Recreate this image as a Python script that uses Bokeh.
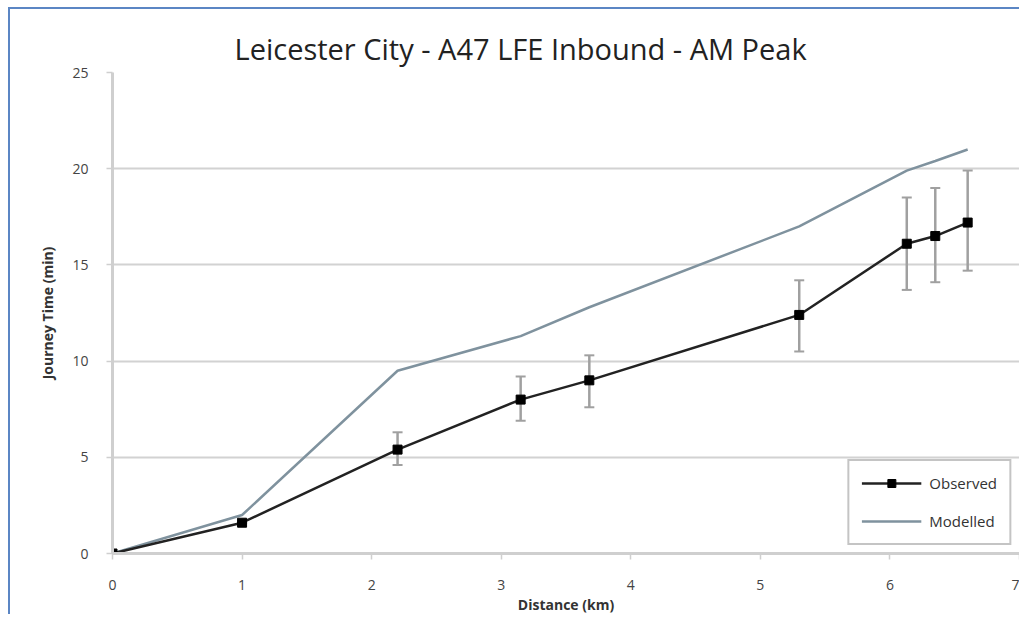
from bokeh.plotting import figure
from bokeh.models import FixedTicker, Whisker, ColumnDataSource, Range1d, Title, Legend, LegendItem
from bokeh.embed import file_html
from bokeh.resources import INLINE

distance = [0, 1.0, 2.2, 3.15, 3.68, 5.3, 6.13, 6.35, 6.6]
observed = [0, 1.6, 5.4, 8.0, 9.0, 12.4, 16.1, 16.5, 17.2]
obs_lower = [0, 1.6, 4.6, 6.9, 7.6, 10.5, 13.7, 14.1, 14.7]
obs_upper = [0, 1.6, 6.3, 9.2, 10.3, 14.2, 18.5, 19.0, 19.9]
modelled = [0, 2.0, 9.5, 11.3, 12.8, 17.0, 19.9, 20.4, 21.0]
x_ticks = [0, 1, 2, 3, 4, 5, 6, 7]
y_ticks = [0, 5, 10, 15, 20, 25]

FONT = "Open Sans, sans-serif"

p = figure(width=1011, height=607, output_backend="svg", toolbar_location=None,
           x_range=Range1d(0, 7), y_range=Range1d(0, 25),
           min_border_left=102, min_border_right=2, min_border_top=63, min_border_bottom=63,
           styles={"border-top": "2px solid #5b86c4", "border-left": "2px solid #5b86c4",
                   "margin-left": "8px", "margin-top": "7px"})
p.outline_line_color = None
p.background_fill_color = "white"
p.border_fill_color = "white"

p.add_layout(Title(text="Leicester City - A47 LFE Inbound  - AM Peak", align="left", offset=122,
                   text_font=FONT, text_font_size="29px", text_font_style="normal",
                   text_color="#222222", standoff=10), "above")

p.xaxis.ticker = FixedTicker(ticks=x_ticks)
p.yaxis.ticker = FixedTicker(ticks=y_ticks)
for ax in (p.xaxis[0], p.yaxis[0]):
    ax.axis_line_color = "#cfcfcf"
    ax.axis_line_width = 3
    ax.major_tick_line_color = "#cfcfcf"
    ax.major_tick_line_width = 1.5
    ax.major_tick_out = 6
    ax.major_tick_in = 0
    ax.minor_tick_line_color = None
    ax.major_label_text_font = FONT
    ax.major_label_text_font_size = "14px"
    ax.major_label_text_color = "#444444"
    ax.axis_label_text_font = FONT
    ax.axis_label_text_font_size = "14px"
    ax.axis_label_text_font_style = "bold"
    ax.axis_label_text_color = "#333333"
p.xaxis.axis_label = "Distance (km)"
p.yaxis.axis_label = "Journey Time (min)"
p.xaxis.major_label_standoff = 20
p.yaxis.major_label_standoff = 18
p.xaxis.axis_label_standoff = 2
p.yaxis.axis_label_standoff = 12

p.xgrid.grid_line_color = None
p.ygrid.grid_line_color = "#d2d2d2"
p.ygrid.grid_line_width = 2

src = ColumnDataSource(dict(x=distance, obs=observed, lo=obs_lower, hi=obs_upper, mod=modelled))

r_mod = p.line("x", "mod", source=src, line_color="#7f929e", line_width=2.5)
wh = Whisker(base="x", lower="lo", upper="hi", source=src, line_color="#a0a0a0", line_width=2.5)
wh.upper_head.line_color = "#a0a0a0"
wh.lower_head.line_color = "#a0a0a0"
wh.upper_head.line_width = 2
wh.lower_head.line_width = 2
wh.upper_head.size = 10
wh.lower_head.size = 10
p.add_layout(wh)
r_obs = p.line("x", "obs", source=src, line_color="#222222", line_width=2.5)
r_pts = p.scatter("x", "obs", source=src, marker="square", size=9, fill_color="black", line_color="black")

legend = Legend(items=[LegendItem(label="Observed", renderers=[r_obs, r_pts]),
                       LegendItem(label="Modelled", renderers=[r_mod])],
                location="bottom_right")
legend.border_line_color = "#8a8a8a"
legend.border_line_width = 2
legend.label_text_font = FONT
legend.label_text_font_size = "15px"
legend.label_text_color = "#333333"
legend.glyph_width = 60
legend.label_standoff = 8
legend.spacing = 18
legend.padding = 12
legend.margin = 8
p.add_layout(legend)

open("out.html", "w").write(file_html(p, INLINE))
